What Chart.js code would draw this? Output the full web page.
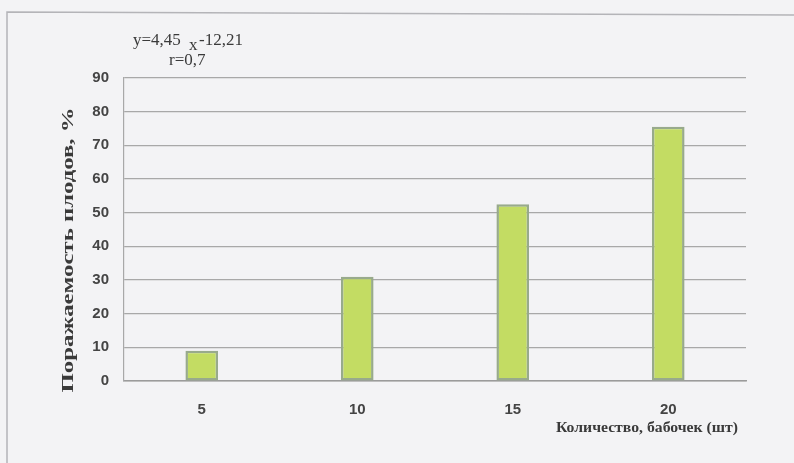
<!DOCTYPE html>
<html><head><meta charset="utf-8">
<script src="https://cdn.jsdelivr.net/npm/chart.js@4"></script>
<style>html,body{margin:0;padding:0;background:#f3f3f5;}#wrap{width:794px;height:463px;position:relative;}</style>
</head><body><div id="wrap"><canvas id="c" width="794" height="463"></canvas></div>
<script>
const categories = ['5', '10', '15', '20'];
const damage = [9, 31, 52.5, 75.5];
const yTicks = [0, 10, 20, 30, 40, 50, 60, 70, 80, 90];
const yTitle = 'Поражаемость плодов, %';
const xTitle = 'Количество, бабочек (шт)';
const eqLine1a = 'y=4,45 ';
const eqLine1b = 'x';
const eqLine1c = '-12,21';
const eqLine2 = 'r=0,7';

const decor = {
  id: 'decor',
  beforeDraw(chart) {
    const ctx = chart.ctx;
    ctx.save();
    ctx.fillStyle = '#f3f3f5';
    ctx.fillRect(0, 0, chart.width, chart.height);
    ctx.strokeStyle = '#b4b4b8';
    ctx.lineWidth = 1.5;
    ctx.beginPath();
    ctx.moveTo(7, 463); ctx.lineTo(7, 12); ctx.lineTo(794, 15);
    ctx.stroke();
    ctx.restore();
  },
  afterDraw(chart) {
    const ctx = chart.ctx;
    ctx.save();
    ctx.fillStyle = '#3a3a3a';
    ctx.font = 'bold 16px "Liberation Serif"';
    ctx.textAlign = 'center'; ctx.textBaseline = 'middle';
    ctx.translate(69, 250);
    ctx.rotate(-Math.PI / 2);
    const w = ctx.measureText(yTitle).width;
    ctx.scale(285 / w, 1);
    ctx.fillText(yTitle, 0, 0);
    ctx.restore();
    ctx.save();
    ctx.fillStyle = '#3a3a3a';
    ctx.font = 'bold 14px "Liberation Serif"';
    ctx.textAlign = 'left'; ctx.textBaseline = 'alphabetic';
    const w2 = ctx.measureText(xTitle).width;
    ctx.translate(556, 432);
    ctx.scale(182 / w2, 1);
    ctx.fillText(xTitle, 0, 0);
    ctx.restore();
    ctx.save();
    ctx.fillStyle = '#3a3a3a';
    ctx.font = '17px "Liberation Serif"';
    ctx.textAlign = 'left'; ctx.textBaseline = 'alphabetic';
    ctx.fillText(eqLine1a, 133, 45);
    ctx.fillText(eqLine1b, 189, 50);
    ctx.fillText(eqLine1c, 199, 45);
    ctx.fillText(eqLine2, 169, 65);
    ctx.restore();
  }
};

function barFill(c) {
  const el = c.element;
  if (!el || el.x === undefined) return '#c3dc63';
  const half = (el.width || 30) / 2;
  const g = c.chart.ctx.createLinearGradient(el.x - half, 0, el.x + half, 0);
  g.addColorStop(0, '#b4d24c');
  g.addColorStop(0.5, '#cde47a');
  g.addColorStop(1, '#b4d24c');
  return g;
}

new Chart(document.getElementById('c'), {
  type: 'bar',
  data: {
    labels: categories,
    datasets: [{
      data: damage,
      backgroundColor: barFill,
      borderColor: '#98aa8c',
      borderWidth: 2.5,
      borderSkipped: false,
      categoryPercentage: 1,
      barPercentage: 0.21
    }]
  },
  options: {
    responsive: false,
    animation: false,
    layout: { padding: { left: 0, top: 78, right: 48, bottom: 0 } },
    plugins: { legend: { display: false }, tooltip: { enabled: false } },
    scales: {
      x: {
        afterFit(s) { s.height = 82; },
        grid: { display: false, drawTicks: false },
        border: { display: true, color: '#9b9b9b', width: 1.5 },
        ticks: { color: '#444', padding: 20, font: { family: '"Liberation Sans"', size: 15, weight: 'bold' } }
      },
      y: {
        min: 0, max: 90,
        afterFit(s) { s.width = 124; },
        afterBuildTicks(s) { s.ticks = yTicks.map(v => ({ value: v })); },
        grid: { color: '#a8a8a8', lineWidth: 1.2, drawTicks: false },
        border: { display: true, color: '#a8a8a8', width: 1.2 },
        ticks: { color: '#444', padding: 15, font: { family: '"Liberation Sans"', size: 15, weight: 'bold' } }
      }
    }
  },
  plugins: [decor]
});
</script></body></html>
